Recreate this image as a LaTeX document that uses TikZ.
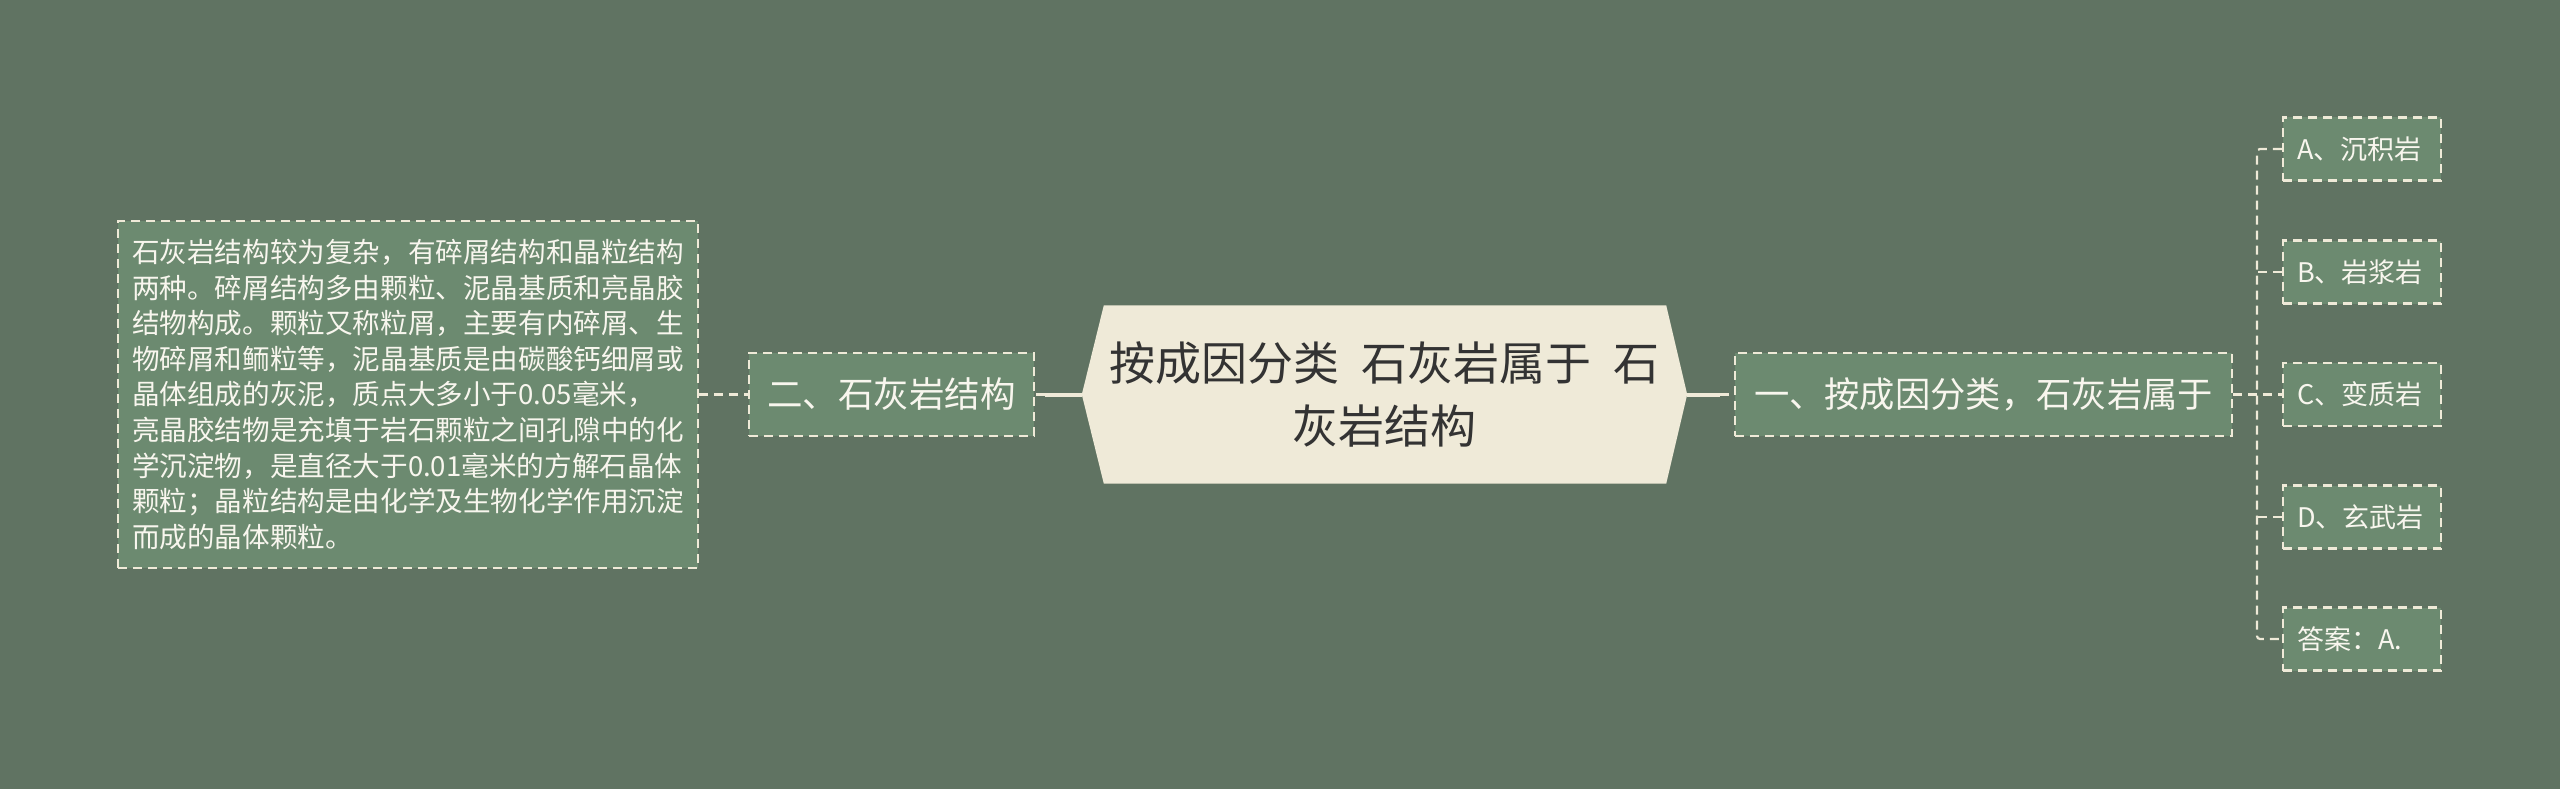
\documentclass[tikz,border=0pt]{standalone}
\usepackage{fontspec}
\setmainfont{Noto Sans CJK SC}
\usetikzlibrary{backgrounds}
\definecolor{bg}{HTML}{607362}
\definecolor{boxfill}{HTML}{6C8A70}
\definecolor{cream}{HTML}{EFEAD8}
\definecolor{rootfill}{HTML}{EFEAD8}
\definecolor{roottext}{HTML}{333333}
\definecolor{boxtext}{HTML}{F8F6EE}
\begin{document}
\begin{tikzpicture}[x=1pt,y=-1pt,
  gbox/.style={draw=cream, fill=boxfill, line width=2.2pt, dash pattern=on 9pt off 6pt, text=boxtext, inner sep=0pt},
  dline/.style={draw=cream, line width=2.2pt, dash pattern=on 9pt off 6pt},
  sline/.style={draw=cream, line width=4pt},
  optbox/.style={gbox, minimum height=63pt, text width=130pt, align=left, inner xsep=14pt, font=\fontsize{27}{32}\selectfont}]
\path[use as bounding box] (0,0) rectangle (2560,789);

% nodes
\node[gbox, minimum width=580pt, minimum height=347pt, text width=552pt, align=left,
      font=\fontsize{27.6}{35.6}\selectfont] (desc) at (408,394.5)
{石灰岩结构较为复杂，有碎屑结构和晶粒结构\\
两种。碎屑结构多由颗粒、泥晶基质和亮晶胶\\
结物构成。颗粒又称粒屑，主要有内碎屑、生\\
物碎屑和鲕粒等，泥晶基质是由碳酸钙细屑或\\
晶体组成的灰泥，质点大多小于0.05毫米，\\
亮晶胶结物是充填于岩石颗粒之间孔隙中的化\\
学沉淀物，是直径大于0.01毫米的方解石晶体\\
颗粒；晶粒结构是由化学及生物化学作用沉淀\\
而成的晶体颗粒。};

\node[gbox, minimum width=285pt, minimum height=83pt, font=\fontsize{35.5}{40}\selectfont] (two) at (891.5,394.5) {二、石灰岩结构};

\node[minimum width=605pt, minimum height=178pt, inner sep=0pt, align=center, text=roottext,
      font=\fontsize{46}{63}\selectfont] (root) at (1384.5,394.5) {按成因分类\hspace{22pt}石灰岩属于\hspace{22pt}石\\灰岩结构};

\node[gbox, minimum width=497pt, minimum height=83pt, font=\fontsize{35.3}{40}\selectfont] (one) at (1983.5,394.5) {一、按成因分类，石灰岩属于};

\node[optbox] (optA) at (2362,149) {A、沉积岩};
\node[optbox] (optB) at (2362,272) {B、岩浆岩};
\node[optbox] (optC) at (2362,394.5) {C、变质岩};
\node[optbox] (optD) at (2362,517) {D、玄武岩};
\node[optbox] (optE) at (2362,639) {答案：A.};

\begin{scope}[on background layer]
  \fill[bg] (0,0) rectangle (2560,789);
  \fill[rootfill] (root.west) -- ([xshift=22pt]root.north west) -- ([xshift=-21pt]root.north east)
     -- (root.east) -- ([xshift=-21pt]root.south east) -- ([xshift=22pt]root.south west) -- cycle;
\end{scope}

% connectors
\coordinate (ls) at (1045,394.5);
\coordinate (rs) at (1720,394.5);
\coordinate (bus) at (2257,394.5);
\draw[dline] (desc.east) -- (two.west);
\draw[sline] (root.west) -- (ls);
\draw[dline] (ls) -- (two.east);
\draw[sline] (root.east) -- (rs);
\draw[dline] (rs) -- (one.west);
\draw[dline] (one.east) -- (optC.west);
\draw[dline, rounded corners=3pt] (optA.west) -| (bus) |- (optE.west);
\draw[dline] (optB.west) -- (optB.west -| bus);
\draw[dline] (optD.west) -- (optD.west -| bus);
\end{tikzpicture}
\end{document}
